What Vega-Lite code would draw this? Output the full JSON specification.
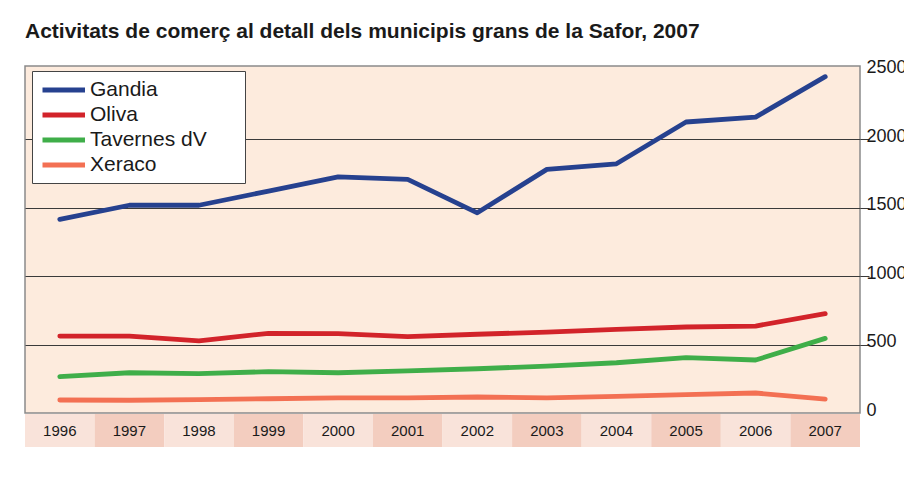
{
  "$schema": "https://vega.github.io/schema/vega-lite/v6.json",
  "padding": {"left": 24, "top": 20, "right": 0, "bottom": 0},
  "background": "#ffffff",
  "bounds": "flush",
  "title": {
    "text": "Activitats de comerç al detall dels municipis grans de la Safor, 2007",
    "anchor": "start",
    "frame": "group",
    "font": "Liberation Sans",
    "fontSize": 21,
    "fontWeight": "bold",
    "color": "#1a1a1a",
    "offset": 16
  },
  "datasets": {
    "lines": [
      {"year": "1996", "municipi": "Gandia", "n": 1414},
      {"year": "1997", "municipi": "Gandia", "n": 1517},
      {"year": "1998", "municipi": "Gandia", "n": 1517},
      {"year": "1999", "municipi": "Gandia", "n": 1621},
      {"year": "2000", "municipi": "Gandia", "n": 1725},
      {"year": "2001", "municipi": "Gandia", "n": 1706},
      {"year": "2002", "municipi": "Gandia", "n": 1462},
      {"year": "2003", "municipi": "Gandia", "n": 1779},
      {"year": "2004", "municipi": "Gandia", "n": 1820},
      {"year": "2005", "municipi": "Gandia", "n": 2125},
      {"year": "2006", "municipi": "Gandia", "n": 2161},
      {"year": "2007", "municipi": "Gandia", "n": 2456},
      {"year": "1996", "municipi": "Oliva", "n": 562},
      {"year": "1997", "municipi": "Oliva", "n": 562},
      {"year": "1998", "municipi": "Oliva", "n": 526},
      {"year": "1999", "municipi": "Oliva", "n": 582},
      {"year": "2000", "municipi": "Oliva", "n": 579},
      {"year": "2001", "municipi": "Oliva", "n": 557},
      {"year": "2002", "municipi": "Oliva", "n": 575},
      {"year": "2003", "municipi": "Oliva", "n": 591},
      {"year": "2004", "municipi": "Oliva", "n": 611},
      {"year": "2005", "municipi": "Oliva", "n": 628},
      {"year": "2006", "municipi": "Oliva", "n": 635},
      {"year": "2007", "municipi": "Oliva", "n": 725},
      {"year": "1996", "municipi": "Tavernes dV", "n": 265},
      {"year": "1997", "municipi": "Tavernes dV", "n": 294},
      {"year": "1998", "municipi": "Tavernes dV", "n": 287},
      {"year": "1999", "municipi": "Tavernes dV", "n": 302},
      {"year": "2000", "municipi": "Tavernes dV", "n": 294},
      {"year": "2001", "municipi": "Tavernes dV", "n": 307},
      {"year": "2002", "municipi": "Tavernes dV", "n": 323},
      {"year": "2003", "municipi": "Tavernes dV", "n": 343},
      {"year": "2004", "municipi": "Tavernes dV", "n": 367},
      {"year": "2005", "municipi": "Tavernes dV", "n": 404},
      {"year": "2006", "municipi": "Tavernes dV", "n": 387},
      {"year": "2007", "municipi": "Tavernes dV", "n": 545},
      {"year": "1996", "municipi": "Xeraco", "n": 95},
      {"year": "1997", "municipi": "Xeraco", "n": 93},
      {"year": "1998", "municipi": "Xeraco", "n": 97},
      {"year": "1999", "municipi": "Xeraco", "n": 104},
      {"year": "2000", "municipi": "Xeraco", "n": 110},
      {"year": "2001", "municipi": "Xeraco", "n": 110},
      {"year": "2002", "municipi": "Xeraco", "n": 117},
      {"year": "2003", "municipi": "Xeraco", "n": 110},
      {"year": "2004", "municipi": "Xeraco", "n": 122},
      {"year": "2005", "municipi": "Xeraco", "n": 134},
      {"year": "2006", "municipi": "Xeraco", "n": 146},
      {"year": "2007", "municipi": "Xeraco", "n": 102}
    ],
    "years": [
      {"year": "1996"}, {"year": "1997"}, {"year": "1998"}, {"year": "1999"},
      {"year": "2000"}, {"year": "2001"}, {"year": "2002"}, {"year": "2003"},
      {"year": "2004"}, {"year": "2005"}, {"year": "2006"}, {"year": "2007"}
    ]
  },
  "resolve": {
    "scale": {"x": "independent", "color": "independent", "fill": "independent"},
    "legend": {"color": "independent", "fill": "independent"}
  },
  "spacing": 1,
  "vconcat": [
    {
      "width": 835,
      "height": 347,
      "view": {"fill": "#fdebdd", "stroke": "#8a8a8a", "strokeWidth": 1.5},
      "data": {"name": "lines"},
      "mark": {"type": "line", "strokeWidth": 4.8, "strokeCap": "round", "strokeJoin": "round"},
      "encoding": {
        "x": {
          "field": "year",
          "type": "ordinal",
          "scale": {"type": "point", "padding": 0.5},
          "axis": null
        },
        "y": {
          "field": "n",
          "type": "quantitative",
          "scale": {"domain": [0, 2534], "nice": false, "zero": true},
          "axis": {
            "orient": "right",
            "title": null,
            "format": "d",
            "values": [0, 500, 1000, 1500, 2000, 2500],
            "grid": true,
            "gridColor": "#3a3a3a",
            "gridWidth": 1,
            "gridOpacity": {"condition": {"test": "datum.value > 0 && datum.value < 2500", "value": 1}, "value": 0},
            "tickOpacity": {"condition": {"test": "datum.value > 0 && datum.value < 2500", "value": 1}, "value": 0},
            "tickColor": "#3a3a3a",
            "tickSize": 9,
            "domain": false,
            "labelPadding": -3,
            "labelOffset": -3,
            "labelFont": "Liberation Sans",
            "labelFontSize": 18,
            "labelColor": "#1a1a1a"
          }
        },
        "color": {
          "field": "municipi",
          "type": "nominal",
          "scale": {
            "domain": ["Gandia", "Oliva", "Tavernes dV", "Xeraco"],
            "range": ["#26418f", "#d2232a", "#3fae49", "#f37053"]
          },
          "legend": {
            "title": null,
            "orient": "none",
            "legendX": 7,
            "legendY": 5,
            "fillColor": "#ffffff",
            "strokeColor": "#444444",
            "padding": 8,
            "symbolType": "M-1,0H4",
            "symbolSize": 289,
            "symbolStrokeWidth": 5,
            "labelFont": "Liberation Sans",
            "labelFontSize": 21,
            "labelColor": "#1a1a1a",
            "labelOffset": 28,
            "labelExpr": "datum.label + '\u2800\u2800'",
            "rowPadding": 4,
            "labelLimit": 400
          }
        }
      }
    },
    {
      "width": 835,
      "height": 33,
      "view": {"stroke": null},
      "data": {"name": "years"},
      "encoding": {
        "x": {
          "field": "year",
          "type": "ordinal",
          "scale": {"type": "band", "paddingInner": 0, "paddingOuter": 0},
          "axis": null
        }
      },
      "layer": [
        {
          "mark": {"type": "rect"},
          "encoding": {
            "fill": {
              "field": "year",
              "type": "ordinal",
              "scale": {
                "domain": ["1996", "1997", "1998", "1999", "2000", "2001", "2002", "2003", "2004", "2005", "2006", "2007"],
                "range": ["#f9e3da", "#f3cdbf", "#f9e3da", "#f3cdbf", "#f9e3da", "#f3cdbf", "#f9e3da", "#f3cdbf", "#f9e3da", "#f3cdbf", "#f9e3da", "#f3cdbf"]
              },
              "legend": null
            }
          }
        },
        {
          "mark": {"type": "text", "font": "Liberation Sans", "fontSize": 15, "color": "#1a1a1a"},
          "encoding": {"text": {"field": "year"}}
        }
      ]
    }
  ]
}
